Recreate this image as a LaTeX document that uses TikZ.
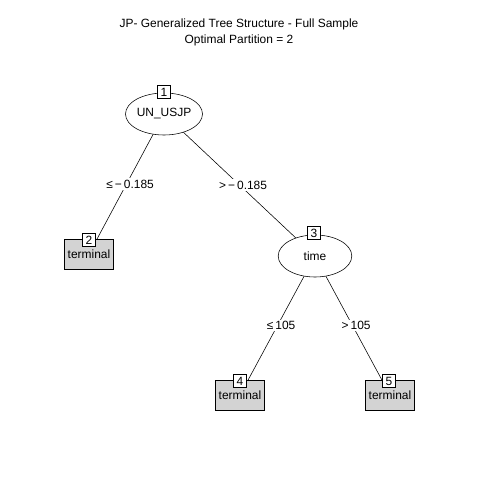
\documentclass[tikz,border=0pt]{standalone}
\usepackage{fontspec}
\setmainfont{Liberation Sans}
\usetikzlibrary{shapes.geometric}
\definecolor{termgray}{HTML}{D3D3D3}

\tikzset{
  split/.style={ellipse, draw, fill=white, minimum width=1.84cm, minimum height=1.05cm, inner sep=0pt},
  leaf/.style={rectangle, draw, fill=termgray, minimum width=1.22cm, minimum height=0.74cm, inner sep=0pt},
  idbox/.style={rectangle, draw, fill=white, minimum size=0.33cm, inner sep=0pt},
  cut/.style={fill=white, inner sep=1pt, xshift=0.09cm}
}

\begin{document}
\begin{tikzpicture}[x=0.025cm, y=-0.025cm, font=\fontsize{8.5pt}{10pt}\selectfont]
\useasboundingbox (0, 0) rectangle (480, 480);

% title
\node[anchor=base] (title) at (239, 27) {JP- Generalized Tree Structure - Full Sample};
\node[anchor=base] (subtitle) at (239, 43) {Optimal Partition = 2};

% edges first, nodes on top
\coordinate (c1) at (164, 114);
\coordinate (c2) at (89, 254);
\coordinate (c3) at (315, 256);
\coordinate (c4) at (240, 395);
\coordinate (c5) at (390, 395);

\draw (c1) -- node[cut] (e12) {≤\,−\,0.185} (c2);
\draw (c1) -- node[cut] (e13) {>\,−\,0.185} (c3);
\draw (c3) -- node[cut] (e34) {≤\,105} (c4);
\draw (c3) -- node[cut] (e35) {>\,105} (c5);

\node[split] (n1) at (c1) {UN\_USJP};
\node[split] (n3) at (c3) {time};
\node[leaf] (n2) at (c2) {\raisebox{-1.5pt}{terminal}};
\node[leaf] (n4) at (c4) {\raisebox{-1.5pt}{terminal}};
\node[leaf] (n5) at (c5) {\raisebox{-1.5pt}{terminal}};

\node[idbox] (id1) at (164, 92) {1};
\node[idbox] (id3) at (314, 233) {3};
\node[idbox] (id2) at (89, 240) {2};
\node[idbox] (id4) at (240, 381) {4};
\node[idbox] (id5) at (389, 381) {5};
\end{tikzpicture}
\end{document}
